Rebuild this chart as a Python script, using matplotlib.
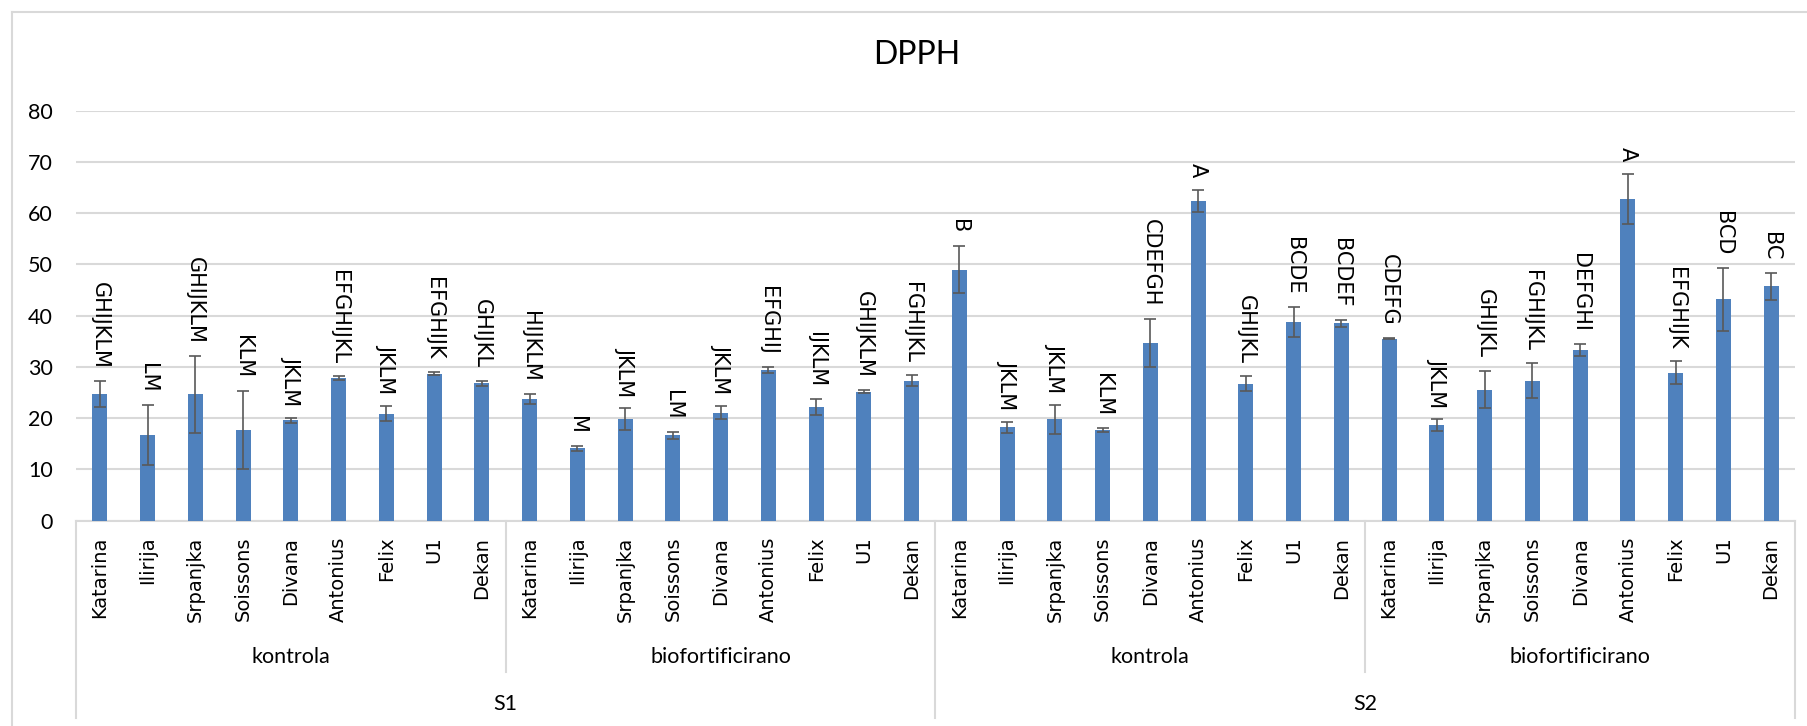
import numpy as np
import matplotlib.pyplot as plt
from matplotlib.lines import Line2D

# sorte (ponavljaju se u svakoj grupi)
varieties = ['Katarina', 'Ilirija', 'Srpanjka', 'Soissons', 'Divana',
             'Antonius', 'Felix', 'U1', 'Dekan']
treatments = ['kontrola', 'biofortificirano', 'kontrola', 'biofortificirano']
sites = ['S1', 'S2']

# DPPH vrijednosti i standardne devijacije
s1_kontrola = [24.7, 16.7, 24.7, 17.7, 19.6, 27.8, 20.9, 28.7, 26.8]
s1_kontrola_err = [2.5, 5.9, 7.5, 7.7, 0.5, 0.4, 1.5, 0.3, 0.5]
s1_bio = [23.7, 14.1, 19.8, 16.7, 21.1, 29.4, 22.2, 25.2, 27.3]
s1_bio_err = [1.0, 0.5, 2.1, 0.7, 1.3, 0.5, 1.5, 0.35, 1.05]
s2_kontrola = [49.0, 18.2, 19.8, 17.7, 34.7, 62.4, 26.7, 38.8, 38.5]
s2_kontrola_err = [4.65, 1.15, 2.85, 0.4, 4.7, 2.2, 1.45, 2.9, 0.7]
s2_bio = [35.5, 18.7, 25.6, 27.3, 33.3, 62.8, 28.9, 43.2, 45.7]
s2_bio_err = [0.1, 1.15, 3.65, 3.45, 1.1, 4.9, 2.2, 6.2, 2.6]

# oznake signifikantnosti
s1_kontrola_lbl = ['GHIJKLM', 'LM', 'GHIJKLM', 'KLM', 'JKLM', 'EFGHIJKL', 'JKLM', 'EFGHIJK', 'GHIJKL']
s1_bio_lbl = ['HIJKLM', 'M', 'JKLM', 'LM', 'JKLM', 'EFGHIJ', 'IJKLM', 'GHIJKLM', 'FGHIJKL']
s2_kontrola_lbl = ['B', 'JKLM', 'JKLM', 'KLM', 'CDEFGH', 'A', 'GHIJKL', 'BCDE', 'BCDEF']
s2_bio_lbl = ['CDEFG', 'JKLM', 'GHIJKL', 'FGHIJKL', 'DEFGHI', 'A', 'EFGHIJK', 'BCD', 'BC']

values = s1_kontrola + s1_bio + s2_kontrola + s2_bio
errors = s1_kontrola_err + s1_bio_err + s2_kontrola_err + s2_bio_err
letters = s1_kontrola_lbl + s1_bio_lbl + s2_kontrola_lbl + s2_bio_lbl
names = varieties * 4
x = np.arange(len(values))
nv = len(varieties)

grid_c = '#d9d9d9'
W, H = 1807, 726
fig = plt.figure(figsize=(W / 100, H / 100), dpi=100)
ax = fig.add_axes([76 / W, 1 - 520.7 / H, (1795 - 76) / W, (520.7 - 110.7) / H])

ax.bar(x, values, width=0.31, color='#4f81bd', zorder=3)
ax.errorbar(x, values, yerr=errors, fmt='none', ecolor='#595959',
            elinewidth=1.2, capsize=4, capthick=1.2, zorder=4)

for xi, v, e, t in zip(x, values, errors, letters):
    ax.text(xi, v + e + 2.4, t, rotation=-90, ha='center', va='bottom',
            fontsize=15, family='DejaVu Sans', zorder=5)

ax.set_xlim(-0.5, len(values) - 0.5)
ax.set_ylim(0, 80)
ax.set_yticks(range(0, 81, 10))
ax.yaxis.grid(True, color=grid_c, lw=1.5, zorder=0)
ax.tick_params(axis='y', length=0, pad=16.5, labelsize=15.5)
for lab in ax.get_yticklabels():
    lab.set_family('Lato')
ax.set_xticks([])
for s in ['top', 'right', 'left']:
    ax.spines[s].set_visible(False)
ax.spines['bottom'].set_color(grid_c)
ax.spines['bottom'].set_linewidth(1.5)

# nazivi sorti
for xi, n in zip(x, names):
    ax.annotate(n, xy=(xi, 0), xycoords=('data', 'axes fraction'),
                xytext=(0, -11.5), textcoords='offset points',
                rotation=90, ha='center', va='top', fontsize=14,
                family='DejaVu Sans')

# razdjelnici i nazivi grupa
to_fig = lambda px: 1 - px / H
for g in range(len(treatments) + 1):
    xd = g * nv - 0.5
    xf = fig.transFigure.inverted().transform(ax.transData.transform((xd, 0)))[0]
    y_end = 718 if g % 2 == 0 else 672
    fig.add_artist(Line2D([xf, xf], [to_fig(520.7), to_fig(y_end)], color=grid_c, lw=1.5))
for g, t in enumerate(treatments):
    xc = g * nv + (nv - 1) / 2
    ax.annotate(t, xy=(xc, 0), xycoords=('data', 'axes fraction'),
                xytext=(0, to_fig(657) * H - to_fig(520.7) * H), textcoords='offset pixels',
                ha='center', va='center', fontsize=15.5, family='Lato')
for g, s in enumerate(sites):
    xc = g * 2 * nv + (2 * nv - 1) / 2
    ax.annotate(s, xy=(xc, 0), xycoords=('data', 'axes fraction'),
                xytext=(0, to_fig(704) * H - to_fig(520.7) * H), textcoords='offset pixels',
                ha='center', va='center', fontsize=15.5, family='Lato')

# okvir grafikona
fig.add_artist(Line2D([12 / W, 12 / W], [to_fig(12), 0], color=grid_c, lw=1.5))
fig.add_artist(Line2D([12 / W, 1], [to_fig(12), to_fig(12)], color=grid_c, lw=1.5))

fig.text(917 / W, to_fig(55), 'DPPH', ha='center', va='center', fontsize=23, family='Lato')

fig.savefig('out.png', dpi=100)
